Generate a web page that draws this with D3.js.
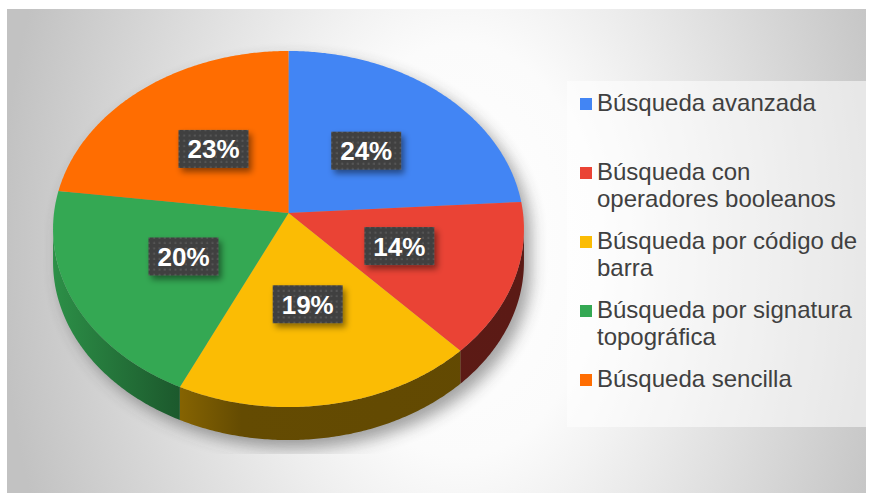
<!DOCTYPE html>
<html>
<head>
<meta charset="utf-8">
<script src="https://cdn.jsdelivr.net/npm/d3@7"></script>
<style>
  body { margin: 0; background: #fff; }
  #chart { width: 872px; height: 495px; }
  text { font-family: "Liberation Sans", Arial, sans-serif; }
</style>
</head>
<body>
<div id="chart"></div>
<script>
// data
const categories = [
  "Búsqueda avanzada",
  "Búsqueda con operadores booleanos",
  "Búsqueda por código de barra",
  "Búsqueda por signatura topográfica",
  "Búsqueda sencilla"
];
const percents = [24, 14, 19, 20, 23];
const colors = ["#4285f4", "#ea4335", "#fbbc04", "#34a853", "#ff6d01"];

const data = categories.map((c, i) => ({ category: c, value: percents[i], color: colors[i] }));

// metrics
const width = 872;
const height = 495;
const cx = 288.5;   // point where slices meet
const cy = 213;
const RX = 234.5;
const RY = 176.6;
const k = 0.09;     // perspective strength
const depth = 33;

const svg = d3.select("#chart")
  .append("svg")
  .attr("width", width)
  .attr("height", height);

const defs = svg.append("defs");

// background gradient
const bg = defs.append("radialGradient")
  .attr("id", "bg")
  .attr("gradientUnits", "userSpaceOnUse")
  .attr("cx", 460).attr("cy", 250).attr("r", 460)
  .attr("gradientTransform", "translate(460,250) scale(1,1.5) translate(-460,-250)");
bg.append("stop").attr("offset", 0).attr("stop-color", "#ffffff");
bg.append("stop").attr("offset", 0.3).attr("stop-color", "#fbfbfb");
bg.append("stop").attr("offset", 1).attr("stop-color", "#c2c2c2");

defs.append("filter").attr("id", "blur")
  .attr("x", -0.2).attr("y", -0.2).attr("width", 1.4).attr("height", 1.4)
  .append("feGaussianBlur").attr("stdDeviation", 8);

const ds = defs.append("filter").attr("id", "dropshadow")
  .attr("x", -0.3).attr("y", -0.3).attr("width", 1.6).attr("height", 1.6);
ds.append("feDropShadow")
  .attr("dx", 3).attr("dy", 4).attr("stdDeviation", 3)
  .attr("flood-color", "#000").attr("flood-opacity", 0.45);

const dots = defs.append("pattern")
  .attr("id", "dots")
  .attr("patternUnits", "userSpaceOnUse")
  .attr("width", 5.3).attr("height", 5.3);
dots.append("rect").attr("width", 5.3).attr("height", 5.3).attr("fill", "#404040");
dots.append("rect").attr("x", 1.5).attr("y", 1.5).attr("width", 2).attr("height", 2).attr("fill", "#565656");

defs.append("clipPath").attr("id", "shadowClip")
  .append("rect").attr("x", 0).attr("y", 0).attr("width", width).attr("height", 454);

svg.append("rect")
  .attr("x", 7).attr("y", 9)
  .attr("width", 859).attr("height", 484)
  .attr("fill", "url(#bg)");

// perspective projection of a point on the pie disk
function proj(a, r) {
  const u = r * Math.sin(a);
  const v = -r * Math.cos(a);
  const w = 1 - k * v;
  return [cx + RX * u / w, cy + RY * v / w];
}

function arcPoints(a0, a1, r, dy) {
  const n = Math.max(2, Math.ceil(Math.abs(a1 - a0) / 0.01));
  return d3.range(n + 1).map(i => {
    const p = proj(a0 + (a1 - a0) * i / n, r);
    return [p[0], p[1] + dy];
  });
}

const line = d3.line();

const pie = d3.pie().sort(null).value(d => d.value);
const arcs = pie(data);

// visible side wall between the silhouette points
const s0 = Math.acos(-k);
const s1 = 2 * Math.PI - s0;

function sidePath(a0, a1) {
  const b0 = Math.max(a0, s0);
  const b1 = Math.min(a1, s1);
  if (b1 <= b0) return null;
  const top = arcPoints(b0, b1, 1, 0);
  const bottom = arcPoints(b1, b0, 1, depth);
  return line(top.concat(bottom)) + "Z";
}

// shadow
const shadow = svg.append("g")
  .attr("clip-path", "url(#shadowClip)")
  .append("g")
  .attr("filter", "url(#blur)")
  .attr("opacity", 0.45);
shadow.append("path")
  .attr("transform", "translate(7,8)")
  .attr("d", line(arcPoints(0, 2 * Math.PI, 1, 0)) + "Z")
  .attr("fill", "#333");
shadow.append("path")
  .attr("transform", "translate(7,8)")
  .attr("d", sidePath(0, 2 * Math.PI))
  .attr("fill", "#333");

// side gradients, lit from the left
function shade(c, f) {
  const col = d3.rgb(c);
  return d3.rgb(col.r * f, col.g * f, col.b * f).formatHex();
}

const left = cx - RX;
const right = cx + RX;
arcs.forEach((d, i) => {
  const g = defs.append("linearGradient")
    .attr("id", "side" + i)
    .attr("gradientUnits", "userSpaceOnUse")
    .attr("x1", left).attr("x2", right).attr("y1", 0).attr("y2", 0);
  g.append("stop").attr("offset", 0).attr("stop-color", shade(d.data.color, 0.85));
  g.append("stop").attr("offset", 0.25).attr("stop-color", shade(d.data.color, 0.55));
  g.append("stop").attr("offset", 0.4).attr("stop-color", shade(d.data.color, 0.4));
  g.append("stop").attr("offset", 1).attr("stop-color", shade(d.data.color, 0.39));
});

// sides
svg.append("g")
  .selectAll("path")
  .data(arcs.filter(d => sidePath(d.startAngle, d.endAngle)))
  .join("path")
  .attr("d", d => sidePath(d.startAngle, d.endAngle))
  .attr("fill", d => `url(#side${d.index})`);

// top surfaces
svg.append("g")
  .selectAll("path")
  .data(arcs)
  .join("path")
  .attr("d", d => line([[cx, cy]].concat(arcPoints(d.startAngle, d.endAngle, 1, 0))) + "Z")
  .attr("fill", d => d.data.color);

// labels
const labels = svg.append("g")
  .selectAll("g")
  .data(arcs)
  .join("g")
  .attr("transform", d => {
    const p = proj((d.startAngle + d.endAngle) / 2, 0.5);
    return `translate(${p[0]}, ${p[1]})`;
  });

labels.append("rect")
  .attr("x", -35).attr("y", -19)
  .attr("width", 70).attr("height", 38)
  .attr("fill", "url(#dots)")
  .attr("filter", "url(#dropshadow)");

labels.append("text")
  .attr("text-anchor", "middle")
  .attr("y", 9.5)
  .attr("fill", "#fff")
  .attr("font-size", 26)
  .attr("font-weight", "bold")
  .text(d => d.data.value + "%");

// legend
const legendX = 567;
const legendY = 81;
const legendW = 299;
const legendH = 346;
const itemStep = 69;
const lineStep = 27;
const wrapWidth = 265;

svg.append("rect")
  .attr("x", legendX).attr("y", legendY)
  .attr("width", legendW).attr("height", legendH)
  .attr("fill", "#fff")
  .attr("opacity", 0.55);

const item = svg.append("g")
  .selectAll("g")
  .data(data)
  .join("g")
  .attr("transform", (d, i) => `translate(${legendX}, ${legendY + 30 + i * itemStep})`);

item.append("rect")
  .attr("x", 13).attr("y", -13)
  .attr("width", 12).attr("height", 12)
  .attr("fill", d => d.color);

item.append("text")
  .attr("x", 30)
  .attr("fill", "#404040")
  .attr("font-size", 24)
  .each(function (d) {
    const text = d3.select(this);
    const words = d.category.split(" ");
    let lineNo = 0;
    let current = [];
    let tspan = text.append("tspan").attr("x", 30).attr("y", 0);
    words.forEach(w => {
      current.push(w);
      tspan.text(current.join(" "));
      if (tspan.node().getComputedTextLength() > wrapWidth && current.length > 1) {
        current.pop();
        tspan.text(current.join(" "));
        current = [w];
        lineNo++;
        tspan = text.append("tspan").attr("x", 30).attr("y", lineNo * lineStep).text(w);
      }
    });
  });
</script>
</body>
</html>
